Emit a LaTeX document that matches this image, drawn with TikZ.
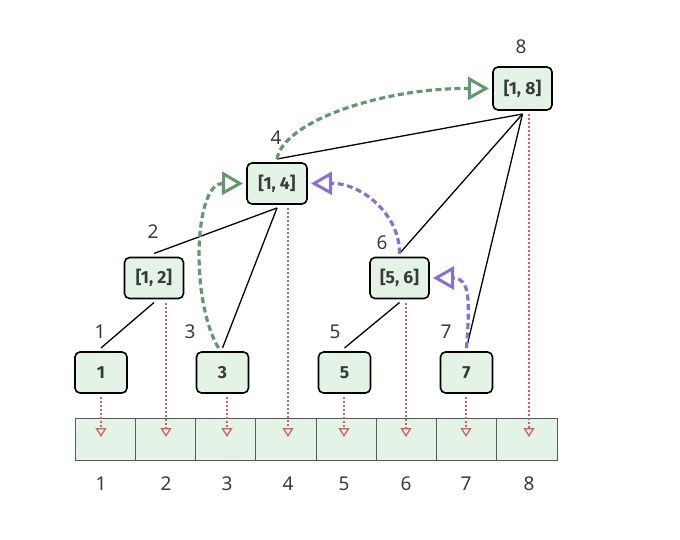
\documentclass[tikz,border=0pt]{standalone}
\usepackage{fontspec}
\setmainfont{Noto Sans}
\newfontfamily\boxfont{Fira Sans}
\usetikzlibrary{arrows.meta}
\definecolor{boxfill}{HTML}{E3F3E5}
\definecolor{gdash}{HTML}{5E9A6B}
\definecolor{pdash}{HTML}{8A6DD6}
\definecolor{rdot}{HTML}{D06060}
\definecolor{labc}{HTML}{3A3A3A}
\begin{document}
\begin{tikzpicture}[x=1pt,y=-1pt,
  seg/.style={draw=black, line width=1.6pt, rounded corners=5pt, fill=boxfill,
     minimum height=41pt, outer sep=4pt, font=\boxfont\fontsize{17.5}{19}\selectfont\bfseries, text=labc},
  leaf/.style={seg, minimum width=52pt},
  inner/.style={seg, minimum width=59pt},
  cell/.style={draw=black!65, line width=0.9pt, fill=boxfill, minimum width=60.25pt, minimum height=42pt, inner sep=0pt},
  lab/.style={font=\fontsize{19}{21}\selectfont, text=labc},
  edge/.style={draw=black, line width=1.3pt},
  redarr/.style={draw=rdot, line width=1.3pt, dash pattern=on 2pt off 2pt, -{Triangle[open, length=9pt, width=11pt]}},
  garr/.style={draw=gdash, line width=3.2pt, dash pattern=on 6pt off 3.5pt, -{Triangle[open, length=21pt, width=23pt, line width=3pt]}},
  parr/.style={draw=pdash, line width=3.2pt, dash pattern=on 6pt off 3.5pt, -{Triangle[open, length=21pt, width=23pt, line width=3pt]}}
]
\useasboundingbox (0,0) rectangle (680,540);
% array cells
\foreach \i in {1,...,8}{
  \node[cell] (a\i) at ({75+60.25*(\i-0.5)},439) {};
}
% tip coordinates and index labels
\foreach \i/\x in {1/101,2/166,3/227,4/288,5/344,6/406,7/466,8/529}{
  \coordinate (t\i) at (\x,437);
  \node[lab] (l\i) at (\x,484) {\i};
}
% tree nodes
\node[leaf] (n1) at (101,372.5) {1};
\node[leaf] (n3) at (222.5,372.5) {3};
\node[leaf] (n5) at (344.5,372.5) {5};
\node[leaf] (n7) at (466.5,372.5) {7};
\node[inner] (n12) at (154,278) {[1, 2]};
\node[inner] (n56) at (399.5,278) {[5, 6]};
\node[inner, minimum width=60pt] (n14) at (277,183.5) {[1, 4]};
\node[inner, minimum height=43pt] (n18) at (522.5,88.5) {[1, 8]};
% node index labels
\node[lab] (k1) at (100,332) {1};
\node[lab] (k3) at (190,332) {3};
\node[lab] (k5) at (335,332) {5};
\node[lab] (k7) at (446,332) {7};
\node[lab] (k2) at (153,232) {2};
\node[lab] (k6) at (382,243) {6};
\node[lab] (k4) at (276,138) {4};
\node[lab] (k8) at (521,47) {8};
% tree edges
\draw[edge] (n18.south) -- (n14.north);
\draw[edge] (n18.south) -- (n56.north);
\draw[edge] (n18.south) -- (n7.north);
\draw[edge] (n14.south) -- (n12.north);
\draw[edge] (n14.south) -- (n3.north);
\draw[edge] (n56.south) -- (n5.north);
\draw[edge] (n12.south) -- (n1.north);
% red dotted arrows
\draw[redarr] (n1.south -| t1) -- (t1);
\draw[redarr] (n12.south -| t2) -- (t2);
\draw[redarr] (n3.south -| t3) -- (t3);
\draw[redarr] (n14.south -| t4) -- (t4);
\draw[redarr] (n5.south -| t5) -- (t5);
\draw[redarr] (n56.south -| t6) -- (t6);
\draw[redarr] (n7.south -| t7) -- (t7);
\draw[redarr] (n18.south -| t8) -- (t8);
% green dashed arrows
\draw[garr] ([xshift=-4pt]n3.north) .. controls (190,300) and (194,183) .. (n14.west);
\draw[garr] (n14.north) .. controls (283,122) and (380,88) .. (n18.west);
% purple dashed arrows
\draw[parr] (n56.north) .. controls (400,215) and (362,183) .. (n14.east);
\draw[parr] (n7.north) .. controls (470,300) and (470,278) .. (n56.east);
\end{tikzpicture}
\end{document}
